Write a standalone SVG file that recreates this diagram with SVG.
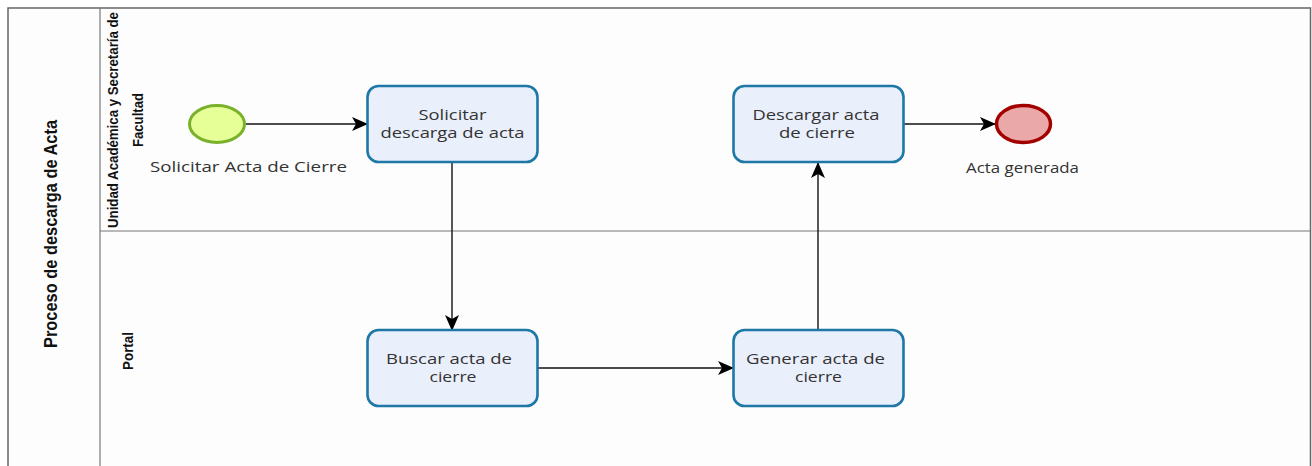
<svg xmlns="http://www.w3.org/2000/svg" width="1312" height="466" viewBox="0 0 1312 466">
<style>
.pool{fill:#fdfdfd;stroke:#666;stroke-width:1.5}
.lane{fill:none;stroke:#777;stroke-width:1.2}
.task{fill:#eaeffc;stroke:#1d78a6;stroke-width:2.6}
.tt{font-family:"Open Sans","Noto Sans",sans-serif;font-size:15px;fill:#333;text-anchor:middle}
.lbl{font-family:"Liberation Sans","DejaVu Sans",sans-serif;font-weight:bold;fill:#111;text-anchor:middle}
.edge{fill:none;stroke:#111;stroke-width:1.4}
</style>
<defs>
<marker id="arr" viewBox="0 0 16 14" refX="15" refY="7" markerWidth="16" markerHeight="14" markerUnits="userSpaceOnUse" orient="auto">
<path d="M0,0 L16,7 L0,14 L4,7 Z" fill="#000"/>
</marker>
</defs>
<g id="pool">
<rect class="pool" x="8" y="8" width="1302.5" height="470"/>
<line class="lane" x1="100" y1="8" x2="100" y2="478"/>
<line class="lane" x1="100" y1="231" x2="1310.5" y2="231"/>
<text class="lbl" font-size="19" transform="translate(57,234) rotate(-90)" textLength="228" lengthAdjust="spacingAndGlyphs">Proceso de descarga de Acta</text>
</g>
<g id="lane-unidad">
<text class="lbl" font-size="14" transform="translate(118,120) rotate(-90)" textLength="216" lengthAdjust="spacingAndGlyphs">Unidad Académica y Secretaría de</text>
<text class="lbl" font-size="14" transform="translate(143,120) rotate(-90)" textLength="54" lengthAdjust="spacingAndGlyphs">Facultad</text>
</g>
<g id="lane-portal">
<text class="lbl" font-size="14" transform="translate(133,351) rotate(-90)" textLength="38" lengthAdjust="spacingAndGlyphs">Portal</text>
</g>
<g id="connectors">
<line class="edge" x1="246" y1="124" x2="367" y2="124" marker-end="url(#arr)"/>
<line class="edge" x1="452" y1="163" x2="452" y2="330" marker-end="url(#arr)"/>
<line class="edge" x1="537" y1="368" x2="733" y2="368" marker-end="url(#arr)"/>
<line class="edge" x1="818" y1="330" x2="818" y2="163" marker-end="url(#arr)"/>
<line class="edge" x1="903" y1="124" x2="995" y2="124" marker-end="url(#arr)"/>
</g>
<g id="start">
<ellipse cx="217" cy="124" rx="27.5" ry="18.5" fill="#e6ff97" stroke="#79b12a" stroke-width="3"/>
<text class="tt" x="248.5" y="172" textLength="197" lengthAdjust="spacingAndGlyphs">Solicitar Acta de Cierre</text>
</g>
<g id="t-solicitar">
<rect class="task" x="367.5" y="86" width="170" height="76" rx="11"/>
<text class="tt" x="452.5" y="120" textLength="68" lengthAdjust="spacingAndGlyphs">Solicitar</text>
<text class="tt" x="452.5" y="138" textLength="144" lengthAdjust="spacingAndGlyphs">descarga de acta</text>
</g>
<g id="t-descargar">
<rect class="task" x="733.5" y="86" width="170" height="76" rx="11"/>
<text class="tt" x="816" y="120" textLength="127" lengthAdjust="spacingAndGlyphs">Descargar acta</text>
<text class="tt" x="817" y="138" textLength="76" lengthAdjust="spacingAndGlyphs">de cierre</text>
</g>
<g id="end">
<ellipse cx="1023.5" cy="124" rx="27" ry="18.5" fill="#eba8a8" stroke="#a30000" stroke-width="3.5"/>
<text class="tt" x="1022.5" y="173" textLength="113" lengthAdjust="spacingAndGlyphs">Acta generada</text>
</g>
<g id="t-buscar">
<rect class="task" x="367.5" y="330" width="170" height="76" rx="11"/>
<text class="tt" x="449" y="364" textLength="126" lengthAdjust="spacingAndGlyphs">Buscar acta de</text>
<text class="tt" x="453" y="382" textLength="47" lengthAdjust="spacingAndGlyphs">cierre</text>
</g>
<g id="t-generar">
<rect class="task" x="733.5" y="330" width="170" height="76" rx="11"/>
<text class="tt" x="815.5" y="364" textLength="139" lengthAdjust="spacingAndGlyphs">Generar acta de</text>
<text class="tt" x="818.5" y="382" textLength="47" lengthAdjust="spacingAndGlyphs">cierre</text>
</g>
</svg>
